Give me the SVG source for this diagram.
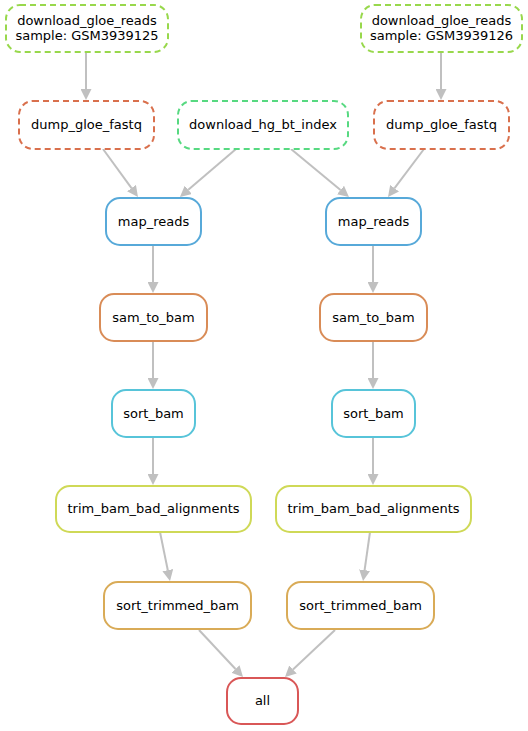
<svg xmlns="http://www.w3.org/2000/svg" width="528" height="731" viewBox="0 0 528 731">
<defs>
<style>
.n rect{fill:#fff;stroke-width:2}
.d rect{stroke-dasharray:6,4}
text{font-family:"DejaVu Sans",sans-serif;font-size:13px;fill:#000;text-anchor:middle}
.e line{stroke:#c0c0c0;stroke-width:2;marker-end:url(#ah)}
</style>
<marker id="ah" viewBox="0 0 11 11" refX="0" refY="5.5" markerWidth="11" markerHeight="11" markerUnits="userSpaceOnUse" orient="auto">
<path d="M0,0 L11,5.5 L0,11 z" fill="#c0c0c0"/>
</marker>
</defs>
<rect width="528" height="731" fill="#fff"/>
<g class="e" id="edges">
<line x1="86" y1="53" x2="86" y2="89"/>
<line x1="441" y1="53" x2="441" y2="89"/>
<line x1="103" y1="149" x2="131.5" y2="188.1"/>
<line x1="236" y1="149" x2="188.3" y2="189.8"/>
<line x1="291" y1="149" x2="340.5" y2="190"/>
<line x1="424" y1="149" x2="394.6" y2="188.2"/>
<line x1="153" y1="245" x2="153" y2="282"/>
<line x1="153" y1="342" x2="153" y2="378"/>
<line x1="153" y1="437" x2="153" y2="474"/>
<line x1="373" y1="245" x2="373" y2="282"/>
<line x1="373" y1="342" x2="373" y2="378"/>
<line x1="373" y1="437" x2="373" y2="474"/>
<line x1="160" y1="532" x2="167.8" y2="570.2"/>
<line x1="370" y1="532" x2="364.6" y2="570.1"/>
<line x1="199" y1="630" x2="235.5" y2="669"/>
<line x1="335" y1="630" x2="293" y2="669.5"/>
</g>
<g id="dl1" class="n d"><rect x="6" y="5" width="162" height="47" rx="14" stroke="#98d84c"/><text x="87" y="25">download_gloe_reads</text><text x="87" y="40">sample: GSM3939125</text></g>
<g id="dl2" class="n d"><rect x="361" y="5" width="161" height="47" rx="14" stroke="#98d84c"/><text x="441.5" y="25">download_gloe_reads</text><text x="441.5" y="40">sample: GSM3939126</text></g>
<g id="dump1" class="n d"><rect x="19" y="101" width="135" height="48" rx="14" stroke="#d9704d"/><text x="86.5" y="129">dump_gloe_fastq</text></g>
<g id="hg" class="n d"><rect x="178" y="101" width="170" height="48" rx="14" stroke="#57d981"/><text x="263" y="129">download_hg_bt_index</text></g>
<g id="dump2" class="n d"><rect x="374" y="101" width="135" height="48" rx="14" stroke="#d9704d"/><text x="441.5" y="129">dump_gloe_fastq</text></g>
<g id="map1" class="n"><rect x="106" y="198" width="95" height="47" rx="14" stroke="#57a9d9"/><text x="153.5" y="226">map_reads</text></g>
<g id="map2" class="n"><rect x="326" y="198" width="95" height="47" rx="14" stroke="#57a9d9"/><text x="373.5" y="226">map_reads</text></g>
<g id="sam1" class="n"><rect x="100" y="294" width="107" height="47" rx="14" stroke="#d98c57"/><text x="153.5" y="322">sam_to_bam</text></g>
<g id="sam2" class="n"><rect x="320" y="294" width="107" height="47" rx="14" stroke="#d98c57"/><text x="373.5" y="322">sam_to_bam</text></g>
<g id="sort1" class="n"><rect x="112" y="390" width="83" height="47" rx="14" stroke="#57c4d9"/><text x="153.5" y="418">sort_bam</text></g>
<g id="sort2" class="n"><rect x="332" y="390" width="83" height="47" rx="14" stroke="#57c4d9"/><text x="373.5" y="418">sort_bam</text></g>
<g id="trim1" class="n"><rect x="56" y="486" width="195" height="46" rx="14" stroke="#cfd957"/><text x="153.5" y="513">trim_bam_bad_alignments</text></g>
<g id="trim2" class="n"><rect x="276" y="486" width="195" height="46" rx="14" stroke="#cfd957"/><text x="373.5" y="513">trim_bam_bad_alignments</text></g>
<g id="st1" class="n"><rect x="104" y="582" width="147" height="47" rx="14" stroke="#d9ab57"/><text x="177.5" y="610">sort_trimmed_bam</text></g>
<g id="st2" class="n"><rect x="287" y="582" width="147" height="47" rx="14" stroke="#d9ab57"/><text x="360.5" y="610">sort_trimmed_bam</text></g>
<g id="all" class="n"><rect x="227" y="678" width="71" height="46" rx="14" stroke="#d95757"/><text x="262.5" y="705">all</text></g>
</svg>
